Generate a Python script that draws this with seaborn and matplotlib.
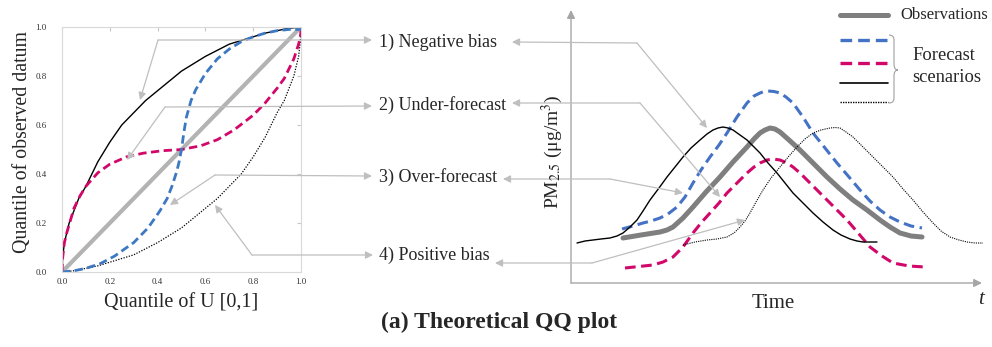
import matplotlib
matplotlib.use("Agg")
import matplotlib.pyplot as plt
from matplotlib.path import Path
from matplotlib.patches import PathPatch
import seaborn as sns

# ---- QQ panel data (quantile of U, quantile of observed datum) ----
diag_u = [0.0, 1.0]
diag_q = [0.0, 1.0]
neg_u = [0, 0.003, 0.01, 0.02, 0.03, 0.05, 0.07, 0.1, 0.125, 0.15, 0.2, 0.25, 0.3, 0.35,
         0.4, 0.45, 0.5, 0.55, 0.6, 0.65, 0.7, 0.75, 0.8, 0.85, 0.9, 0.95, 1.0]
neg_q = [0, 0.06, 0.12, 0.16, 0.2, 0.25, 0.3, 0.35, 0.4, 0.45, 0.53, 0.6, 0.65, 0.7,
         0.74, 0.78, 0.82, 0.85, 0.88, 0.905, 0.93, 0.945, 0.96, 0.975, 0.985, 0.995, 1.0]
pos_u = [0, 0.05, 0.1, 0.15, 0.2, 0.25, 0.3, 0.35, 0.4, 0.45, 0.5, 0.55, 0.6, 0.65,
         0.7, 0.75, 0.8, 0.85, 0.875, 0.9, 0.93, 0.95, 0.97, 0.98, 0.99, 0.997, 1.0]
pos_q = [0, 0.005, 0.015, 0.025, 0.04, 0.055, 0.07, 0.095, 0.12, 0.15, 0.18, 0.22, 0.26, 0.3,
         0.35, 0.4, 0.47, 0.55, 0.6, 0.65, 0.7, 0.75, 0.8, 0.84, 0.88, 0.94, 1.0]
under_u = [0, 0.003, 0.01, 0.02, 0.035, 0.05, 0.075, 0.1, 0.15, 0.2, 0.27, 0.34, 0.42, 0.5,
           0.58, 0.65, 0.72, 0.8, 0.85, 0.9, 0.93, 0.95, 0.97, 0.98, 0.99, 0.997, 1.0]
under_q = [0, 0.06, 0.12, 0.16, 0.21, 0.26, 0.31, 0.35, 0.405, 0.44, 0.47, 0.485, 0.495, 0.5,
           0.515, 0.54, 0.58, 0.64, 0.69, 0.75, 0.79, 0.83, 0.87, 0.9, 0.93, 0.96, 0.985]
over_u = [0, 0.05, 0.1, 0.16, 0.22, 0.3, 0.36, 0.41, 0.44, 0.46, 0.48, 0.49, 0.5, 0.51,
          0.52, 0.54, 0.56, 0.6, 0.65, 0.7, 0.75, 0.8, 0.85, 0.9, 0.95, 1.0]
over_q = [0, 0.005, 0.015, 0.034, 0.065, 0.12, 0.18, 0.25, 0.3, 0.35, 0.41, 0.45, 0.5, 0.57,
          0.63, 0.7, 0.745, 0.81, 0.87, 0.91, 0.94, 0.96, 0.975, 0.985, 0.99, 0.99]
qq_ticks = [0.0, 0.2, 0.4, 0.6, 0.8, 1.0]

# ---- time series panel data (arbitrary time / concentration units) ----
obs_t = [52, 70, 89, 96, 102, 112, 122, 135, 149, 162, 176, 183, 189, 194, 199, 204, 209, 218,
         229, 242, 256, 269, 282, 296, 309, 319, 329, 340, 351]
obs_c = [45, 48, 51, 53, 56, 65, 76, 91, 106, 121, 136, 144, 150, 153, 155, 154, 151, 143,
         133, 120, 106, 94, 83, 73, 63, 56, 50, 47, 46]
over_t = [51, 62, 72, 80, 89, 97, 106, 114, 122, 130, 139, 148, 156, 166, 176, 183, 189, 193,
          197, 203, 209, 215, 222, 232, 242, 254, 266, 278, 289, 299, 309, 319, 329, 340, 351]
over_c = [54, 57, 60, 62, 65, 69, 76, 86, 100, 113, 126, 138, 150, 166, 180, 187, 190, 191.5,
          192, 191.5, 190, 186, 180, 166, 150, 135, 120, 106, 93, 82, 73, 66, 61, 57, 55]
under_t = [54, 68, 82, 92, 102, 112, 122, 130, 139, 148, 156, 166, 176, 183, 189, 196, 202, 209,
           216, 222, 229, 239, 249, 262, 276, 288, 299, 311, 322, 338, 354]
under_c = [15, 16.5, 18, 21, 26, 36, 50, 60, 70, 80, 90, 100, 110, 116, 120, 123, 124, 123,
           120, 116, 110, 100, 90, 77, 63, 49, 36, 27, 20, 17, 16]
neg_t = [6, 14, 22, 30, 39, 46, 52, 59, 66, 72, 79, 88, 96, 104, 112, 120, 129, 136, 142, 147,
         152, 157, 162, 169, 176, 182, 189, 197, 206, 214, 222, 232, 242, 252, 262, 270, 279,
         286, 292, 306]
neg_c = [40, 42, 43, 44, 45, 47, 50, 56, 63, 72, 83, 95, 106, 116, 126, 135, 143, 149, 153, 155,
         156, 155, 153, 148, 143, 137, 130, 120, 110, 100, 90, 80, 70, 61, 53, 48, 44,
         42, 41, 41]
pos_t = [112, 124, 136, 146, 156, 163, 169, 174, 179, 185, 192, 200, 209, 218, 226, 234, 242,
         250, 259, 264, 269, 275, 282, 292, 302, 312, 322, 332, 342, 352, 362, 370, 379, 388,
         396, 404, 412]
pos_c = [38, 41, 43, 44, 46, 50, 56, 62, 70, 81, 93, 105, 116, 127, 136, 144, 150,
         153, 155, 155.5, 155, 151, 146, 136, 126, 116, 106, 94, 83, 71, 60, 52, 46, 43,
         41, 40, 40]

bias_labels = ["1) Negative bias", "2) Under-forecast", "3) Over-forecast", "4) Positive bias"]

BLUE = "#3d78c2"
BLUE_TS = "#4472c4"
MAGENTA = "#d2076a"
GRAY_OBS = "#7f7f7f"
GRAY_DIAG = "#b3b3b3"
ARROW = "#bfbfbf"

sns.set_style("white")
plt.rcParams["font.family"] = ["Liberation Serif", "DejaVu Serif"]
plt.rcParams["mathtext.fontset"] = "stix"
plt.rcParams["lines.solid_joinstyle"] = "round"
plt.rcParams["lines.dash_joinstyle"] = "round"

fig = plt.figure(figsize=(9.92, 3.47), dpi=100)
W, H = 992, 347


def px_axes(x0, y0, x1, y1, **kw):
    # axes from a pixel box (origin top-left)
    return fig.add_axes([x0 / W, 1 - y1 / H, (x1 - x0) / W, (y1 - y0) / H], **kw)


def line(ax, x, y, **kw):
    sns.lineplot(x=x, y=y, ax=ax, estimator=None, sort=False, **kw)


# ---------------- QQ panel ----------------
ax = px_axes(62, 27, 301, 272)
line(ax, diag_u, diag_q, color=GRAY_DIAG, linewidth=3.0)
line(ax, neg_u, neg_q, color="black", linewidth=1.0)
line(ax, pos_u, pos_q, color="black", linewidth=0.9, linestyle=(0, (1, 1.2)))
line(ax, under_u, under_q, color=MAGENTA, linewidth=2.0, linestyle=(0, (3, 1.6)))
line(ax, over_u, over_q, color=BLUE, linewidth=2.0, linestyle=(0, (3, 1.6)))
ax.set_xlim(0, 1)
ax.set_ylim(0, 1)
ax.set_xticks(qq_ticks)
ax.set_yticks(qq_ticks)
ax.set_xticklabels([f"{v:.1f}" for v in qq_ticks], fontsize=6.5)
ax.set_yticklabels([f"{v:.1f}" for v in qq_ticks], fontsize=6.5)
ax.tick_params(axis="x", length=0, pad=4, colors="#333333")
ax.tick_params(axis="y", length=0, pad=11, colors="#333333")
ax.tick_params(top=True, right=True, direction="in", length=3, color="#c8c8c8",
               labeltop=False, labelright=False)
for sp in ax.spines.values():
    sp.set_color("#d9d9d9")
    sp.set_linewidth(0.8)
ax.set_xlabel("")
ax.set_ylabel("")

# ---------------- time series panel ----------------
ax2 = px_axes(571, 5, 990, 283)
line(ax2, obs_t, obs_c, color=GRAY_OBS, linewidth=3.6)
line(ax2, over_t, over_c, color=BLUE_TS, linewidth=2.2, linestyle=(0, (3.5, 1.8)))
line(ax2, under_t, under_c, color=MAGENTA, linewidth=2.2, linestyle=(0, (3.5, 1.8)))
line(ax2, neg_t, neg_c, color="black", linewidth=1.0)
line(ax2, pos_t, pos_c, color="black", linewidth=0.8, linestyle=(0, (1, 1)))
ax2.set_xlim(0, 419)
ax2.set_ylim(0, 278)
ax2.set_xticks([])
ax2.set_yticks([])
for sp in ax2.spines.values():
    sp.set_visible(False)
for ln in ax2.get_lines():
    ln.set_clip_on(False)
axis_arrow = dict(arrowstyle="-|>", color="#a6a6a6", lw=1.0, mutation_scale=12, shrinkA=0, shrinkB=0)
ax2.annotate("", xy=(411, 0), xytext=(0, 0), arrowprops=axis_arrow)
ax2.annotate("", xy=(0, 273), xytext=(0, 0), arrowprops=axis_arrow)

# ---------------- overlay: connectors, labels, legend ----------------
ov = px_axes(0, 0, 992, 347, zorder=5)
ov.set_xlim(0, W)
ov.set_ylim(H, 0)
ov.axis("off")
ov.patch.set_alpha(0)

aprops = dict(arrowstyle="-|>", color=ARROW, lw=0.9, mutation_scale=11, shrinkA=0, shrinkB=0)


def arrow(p_from, p_to):
    ov.annotate("", xy=p_to, xytext=p_from, arrowprops=aprops)


# left connectors: elbow point, curve target, label target
left_conn = [((158, 40), (140, 100), (372, 40)),
             ((165, 107), (127, 160), (372, 106)),
             ((215, 175), (170, 205), (372, 176)),
             ((252, 255), (215, 205), (373, 255))]
# right connectors: label target, elbow point, curve target
right_conn = [((512, 42), (637, 43), (707, 128)),
              ((512, 103), (640, 103), (720, 197)),
              ((503, 179), (610, 179), (683, 193)),
              ((495, 263), (592, 263), (745, 220))]
label_y = [42, 105, 177, 255]

for (elb, tgt, lab), (rlab, relb, rtgt), txt, ly in zip(left_conn, right_conn, bias_labels, label_y):
    arrow(elb, tgt)
    arrow(elb, lab)
    arrow(relb, rlab)
    arrow(relb, rtgt)
    ov.text(379, ly, txt, fontsize=13, ha="left", va="center")

# legend
leg_y = [15, 40, 63, 83, 102]
leg_style = [dict(color=GRAY_OBS, lw=3.6),
             dict(color=BLUE_TS, lw=2.4, linestyle=(0, (3.5, 1.8))),
             dict(color=MAGENTA, lw=2.4, linestyle=(0, (3.5, 1.8))),
             dict(color="black", lw=1.2),
             dict(color="black", lw=1.0, linestyle=(0, (1, 0.8)))]
for yy, st in zip(leg_y, leg_style):
    ov.plot([840, 888], [yy, yy], **st)
ov.text(900, 15, "Observations", fontsize=12, ha="left", va="center")
ov.text(912, 55, "Forecast", fontsize=13.3, ha="left", va="center")
ov.text(912, 77, "scenarios", fontsize=13.3, ha="left", va="center")

brace = Path([(889, 35), (894, 35), (894, 40), (894, 64), (894, 70), (898, 70),
              (894, 70), (894, 76), (894, 98), (894, 103), (889, 103)],
             [Path.MOVETO, Path.CURVE3, Path.CURVE3, Path.LINETO, Path.CURVE3, Path.CURVE3,
              Path.CURVE3, Path.CURVE3, Path.LINETO, Path.CURVE3, Path.CURVE3])
ov.add_patch(PathPatch(brace, facecolor="none", edgecolor="#a0a0a0", lw=0.8))

ov.text(181, 303, "Quantile of U [0,1]", fontsize=14.5, ha="center", va="center")
ov.text(23, 142, "Quantile of observed datum", fontsize=14.3, rotation=90, ha="center", va="center")
ov.text(552, 152, r"PM$_{2.5}$ (μg/m$^3$)", fontsize=14, rotation=90, ha="center", va="center")
ov.text(773, 303, "Time", fontsize=15, ha="center", va="center")
ov.text(981, 300, "t", fontsize=15, style="italic", ha="center", va="center")
ov.text(499, 322, "(a) Theoretical QQ plot", fontsize=17, fontweight="bold", ha="center", va="center")

fig.savefig("out.png", dpi=100)
